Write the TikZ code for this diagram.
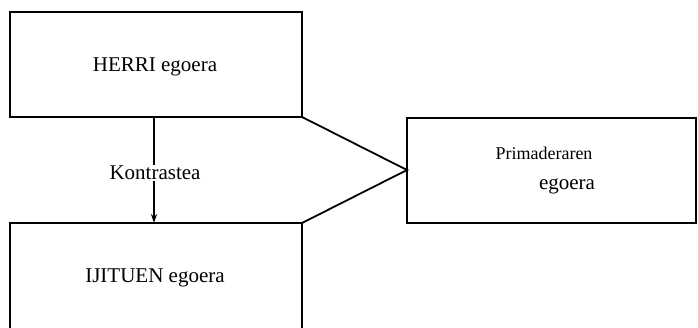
\documentclass[tikz,border=0pt]{standalone}
\usepackage{fontspec}
\setmainfont{Liberation Serif}
\usetikzlibrary{arrows.meta}
\begin{document}
\begin{tikzpicture}[x=1pt,y=-1pt,
  boxline/.style={line width=2.4pt},
  linkline/.style={line width=1.8pt},
  lbl/.style={font=\fontsize{21}{25}\selectfont, inner sep=1pt}]
\useasboundingbox (0,0) rectangle (698,328);
\clip (0,0) rectangle (698,328);
\draw[boxline] (10,12) rectangle (302,117);
\draw[boxline] (10,223) rectangle (302,340);
\draw[boxline] (407,118) rectangle (696,223);
\coordinate (tr) at (302,117);
\coordinate (br) at (302,223);
\coordinate (tip) at (407,170);
\coordinate (as) at (154,117);
\coordinate (ae) at (154,223);
\draw[linkline] (tr) -- (tip) -- (br);
\draw[line width=1.8pt,-{Stealth[length=9pt,width=6pt]}] (as) -- (ae);
\node[lbl] (herri) at (155,67) {HERRI egoera};
\node[lbl] (ijituen) at (155,278) {IJITUEN egoera};
\node[lbl, fill=white] (kontr) at (155,173) {Kontrastea};
\node[lbl, font=\fontsize{18}{22}\selectfont] (prim) at (544,153) {Primaderaren};
\node[lbl] (eg) at (567,186) {egoera};
\end{tikzpicture}
\end{document}
